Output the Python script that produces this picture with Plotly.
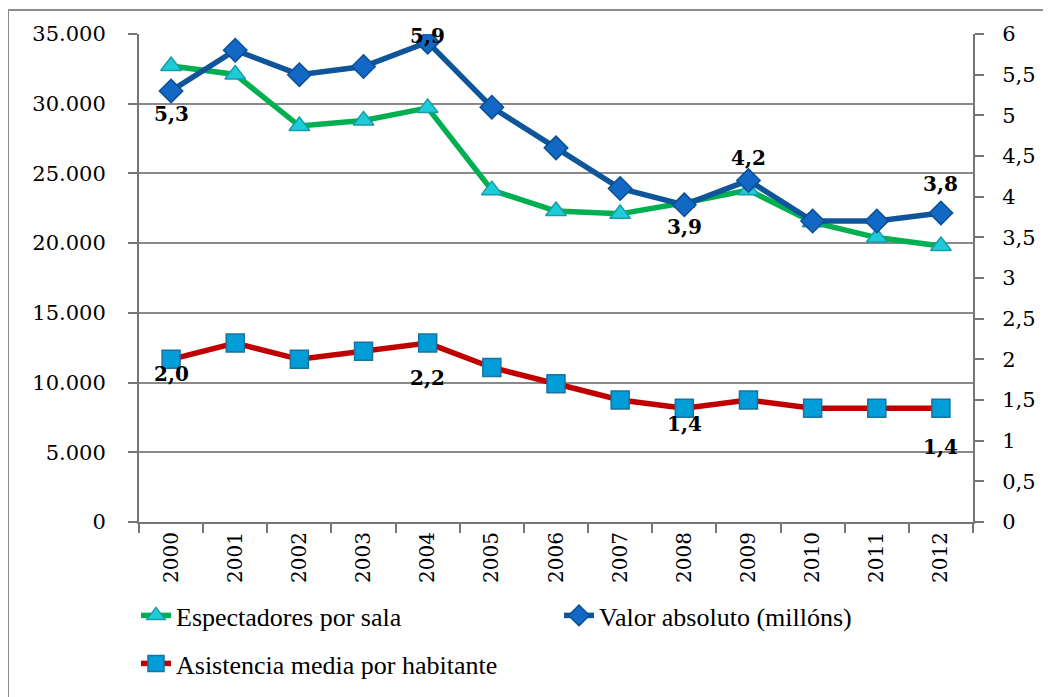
import plotly.graph_objects as go

years = ["2000", "2001", "2002", "2003", "2004", "2005", "2006",
         "2007", "2008", "2009", "2010", "2011", "2012"]
espectadores = [32700, 32100, 28400, 28800, 29700, 23800, 22300,
                22100, 22900, 23800, 21500, 20400, 19800]
valor_absoluto = [5.3, 5.8, 5.5, 5.6, 5.9, 5.1, 4.6, 4.1, 3.9, 4.2, 3.7, 3.7, 3.8]
asistencia = [2.0, 2.2, 2.0, 2.1, 2.2, 1.9, 1.7, 1.5, 1.4, 1.5, 1.4, 1.4, 1.4]

# labelled points: (index, vertical offset in px)
valor_labels = [(0, -23), (4, 6), (8, -22), (9, 22), (12, 29)]
asist_labels = [(0, -15), (4, -35), (8, -16), (12, -39)]

OFF = 8  # page body margin
L, T = 139 - OFF, 34 - OFF
W, H = 1051, 697
pw, ph = 834, 488
R, B = W - L - pw, H - T - ph


def px_x(x):  # page pixel -> paper x
    return (x - OFF - L) / pw


def px_y(y):  # page pixel -> paper y
    return (T + ph - (y - OFF)) / ph


num_font = "DejaVu Serif"
legend_font = "Liberation Serif"

fig = go.Figure()
fig.add_trace(go.Scatter(
    x=years, y=espectadores, name="Espectadores por sala", mode="lines+markers",
    line=dict(color="#00B050", width=5.5),
    marker=dict(symbol="triangle-up", size=18, color="#1CCCD6",
                line=dict(color="#1A9BAA", width=1.5)),
    legend="legend", yaxis="y"))
fig.add_trace(go.Scatter(
    x=years, y=valor_absoluto, name="Valor absoluto (millóns)", mode="lines+markers",
    line=dict(color="#0E5599", width=5.5),
    marker=dict(symbol="diamond", size=18, color="#1268C4",
                line=dict(color="#0B4F93", width=1.5)),
    legend="legend", yaxis="y2"))
fig.add_trace(go.Scatter(
    x=years, y=asistencia, name="Asistencia media por habitante", mode="lines+markers",
    line=dict(color="#C00000", width=5.5),
    marker=dict(symbol="square", size=18, color="#009DD9",
                line=dict(color="#19729F", width=1.5)),
    legend="legend2", yaxis="y2"))

annotations = []
for series, labels in ((valor_absoluto, valor_labels), (asistencia, asist_labels)):
    for i, dy in labels:
        annotations.append(dict(
            x=i, y=series[i], xref="x", yref="y2", showarrow=False,
            text="<b>" + f"{series[i]:.1f}".replace(".", ",") + "</b>",
            yshift=dy, font=dict(family=num_font, size=20, color="black")))

axis_col = "#767676"
fig.update_layout(
    width=W, height=H,
    margin=dict(l=L, r=R, t=T, b=B, autoexpand=False),
    paper_bgcolor="white", plot_bgcolor="white",
    separators=",.",
    font=dict(family=num_font, color="black"),
    xaxis=dict(type="category", tickson="boundaries", ticks="outside", ticklen=9,
               tickcolor=axis_col, tickwidth=2, showline=True, linecolor=axis_col,
               linewidth=2, showgrid=False, tickangle=-90, automargin=False,
               tickfont=dict(family=num_font, size=20, color="black"),
               range=[-0.5, 12.5]),
    yaxis=dict(range=[0, 35000], dtick=5000, tickformat=",d", showgrid=True,
               gridcolor="#8A8A8A", gridwidth=2, showline=True, linecolor=axis_col,
               linewidth=2, ticks="outside", ticklen=9, tickcolor=axis_col, tickwidth=2,
               ticklabelstandoff=18, automargin=False,
               zeroline=False, tickfont=dict(family=num_font, size=21, color="black")),
    yaxis2=dict(range=[0, 6], dtick=0.5, overlaying="y", side="right", showgrid=False,
                showline=True, linecolor=axis_col, linewidth=2, ticks="outside",
                ticklen=9, tickcolor=axis_col, tickwidth=2, zeroline=False,
                ticklabelstandoff=14, automargin=False,
                tickfont=dict(family=num_font, size=21, color="black")),
    legend=dict(orientation="h", x=px_x(136), y=px_y(592),
                xanchor="left", yanchor="top", entrywidth=378, entrywidthmode="pixels",
                font=dict(family=legend_font, size=26, color="black"), bgcolor="rgba(0,0,0,0)"),
    legend2=dict(orientation="h", x=px_x(136), y=px_y(640),
                 xanchor="left", yanchor="top",
                 font=dict(family=legend_font, size=26, color="black"), bgcolor="rgba(0,0,0,0)"),
    annotations=annotations,
    shapes=[dict(type="rect", xref="paper", yref="paper",
                 x0=px_x(8), x1=px_x(1200),
                 y0=px_y(800), y1=px_y(10),
                 line=dict(color="#8C8C8C", width=2), layer="below")],
    showlegend=True,
)

fig.write_html("out.html")
